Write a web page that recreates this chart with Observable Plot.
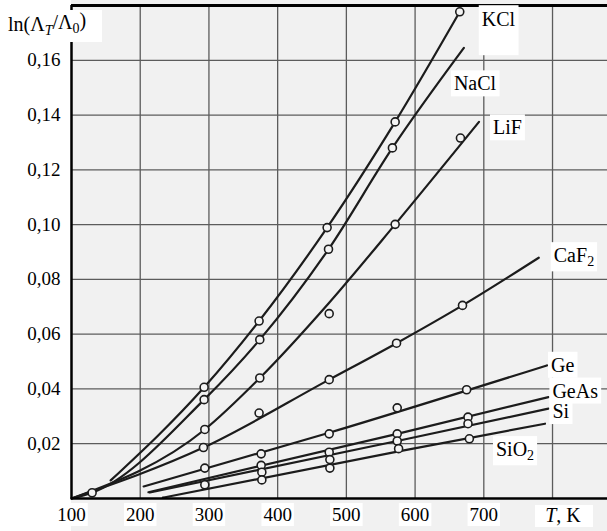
<!DOCTYPE html>
<html><head><meta charset="utf-8">
<script src="https://cdn.jsdelivr.net/npm/d3@7"></script>
<script src="https://cdn.jsdelivr.net/npm/@observablehq/plot@0.6"></script>
<style>
body{margin:0;background:#fff;}
#chart svg{display:block;background:#fff;}
</style></head><body><div id="chart"></div>
<script>
// ---- data ----
const xTicks = [100, 200, 300, 400, 500, 600, 700];
const xGrid = [200, 300, 400, 500, 600, 700, 800];
const yTicks = [0.02, 0.04, 0.06, 0.08, 0.10, 0.12, 0.14, 0.16];
const seriesNames = ["KCl", "NaCl", "LiF", "CaF2", "Ge", "GeAs", "Si", "SiO2"];

// curve nodes [T, ln(ΛT/Λ0)]
const lineKCl  = [[157, 0.0066], [293, 0.0406], [373, 0.0648], [472, 0.0989], [571, 0.1375], [665, 0.1777]];
const lineNaCl = [[100, 0.0], [130, 0.0021], [293, 0.0361], [374, 0.058], [474, 0.091], [567, 0.128], [671, 0.1645]];
const lineLiF  = [[100, 0.0], [294, 0.0252], [374, 0.044], [474, 0.0712], [571, 0.1001], [693, 0.1375]];
const lineCaF2 = [[100, 0.0], [292, 0.0186], [475, 0.0434], [573, 0.0567], [669, 0.0705], [780, 0.0879]];
const lineGe   = [[205, 0.0044], [475, 0.0240], [792, 0.0486]];
const lineGeAs = [[212, 0.0023], [574, 0.0236], [794, 0.037]];
const lineSi   = [[214, 0.0022], [574, 0.021], [794, 0.0328]];
const lineSiO2 = [[233, 0.0003], [576, 0.0172], [789, 0.0273]];

// measured points (circles)
const ptsKCl  = [[293, 0.0406], [373, 0.0648], [472, 0.0989], [571, 0.1375], [665, 0.1777]];
const ptsNaCl = [[130, 0.0021], [293, 0.0361], [374, 0.058], [474, 0.091], [567, 0.128]];
const ptsLiF  = [[294, 0.0252], [374, 0.044], [475, 0.0675], [571, 0.1001], [666, 0.1316]];
const ptsCaF2 = [[292, 0.0186], [373, 0.0312], [475, 0.0434], [573, 0.0567], [669, 0.0705]];
const ptsGe   = [[294, 0.0111], [376, 0.0163], [475, 0.0236], [574, 0.0331], [675, 0.0397]];
const ptsGeAs = [[376, 0.0121], [475, 0.0169], [574, 0.0236], [677, 0.0297]];
const ptsSi   = [[294, 0.005], [377, 0.0096], [476, 0.0142], [574, 0.021], [677, 0.0273]];
const ptsSiO2 = [[377, 0.0068], [476, 0.0111], [576, 0.0182], [679, 0.0218]];

const lines = {KCl: lineKCl, NaCl: lineNaCl, LiF: lineLiF, CaF2: lineCaF2, Ge: lineGe, GeAs: lineGeAs, Si: lineSi, SiO2: lineSiO2};
const pts = {KCl: ptsKCl, NaCl: ptsNaCl, LiF: ptsLiF, CaF2: ptsCaF2, Ge: ptsGe, GeAs: ptsGeAs, Si: ptsSi, SiO2: ptsSiO2};

// label offsets from each curve's end (style)
const labelStyle = {
  KCl: {dx: 22, dy: 8}, NaCl: {dx: -10, dy: 36}, LiF: {dx: 14, dy: 6}, CaF2: {dx: 15, dy: -2},
  Ge: {dx: 4, dy: 0}, GeAs: {dx: 4, dy: -6}, Si: {dx: 4, dy: 3}, SiO2: {dx: -49, dy: 26}
};

const lineRows = seriesNames.flatMap(s => lines[s].map(([T, v]) => ({s, T, v})));
const ptRows = seriesNames.flatMap(s => pts[s].map(([T, v]) => ({s, T, v})));

const FONT = "Liberation Serif, Times New Roman, serif";
const fmt = d => d.toFixed(2).replace(".", ",");

const plot = Plot.plot({
  width: 607, height: 531,
  marginLeft: 71, marginRight: 0, marginTop: 5, marginBottom: 33,
  x: {domain: [100, 880]},
  y: {domain: [0, 0.18]},
  style: {fontFamily: FONT, background: "transparent", color: "#111"},
  marks: [
    Plot.gridX(xGrid, {stroke: "#5c5c5c", strokeOpacity: 1, strokeWidth: 1.3}),
    Plot.gridY(yTicks, {stroke: "#5c5c5c", strokeOpacity: 1, strokeWidth: 1.3}),
    Plot.line(lineRows, {x: "T", y: "v", z: "s", curve: "monotone-x", stroke: "#1c1c1c", strokeWidth: 2.2}),
    Plot.dot(ptRows, {x: "T", y: "v", r: 4, stroke: "#1c1c1c", strokeWidth: 1.6, fill: "#f4f4f4"}),
    Plot.ruleX([100], {stroke: "#000", strokeWidth: 2.5}),
    Plot.ruleY([0], {stroke: "#000", strokeWidth: 2.5}),
    Plot.ruleY([0.18], {stroke: "#000", strokeWidth: 3}),
    Plot.axisX(xTicks, {tickSize: 0, tickPadding: 9, fontSize: 19, fill: "#000", label: null}),
    Plot.axisY(yTicks, {tickSize: 0, tickPadding: 11, fontSize: 19, tickFormat: fmt, fill: "#000", label: null}),
    ...seriesNames.map(s => {
      const end = lines[s][lines[s].length - 1];
      return Plot.text([{T: end[0], v: end[1], s}], {
        x: "T", y: "v", text: "s", textAnchor: "start", fontSize: 20, fill: "#000",
        dx: labelStyle[s].dx, dy: labelStyle[s].dy
      });
    })
  ]
});
document.getElementById("chart").append(plot);

const svg = d3.select(plot);
// light paper background for the plotting area and below it
svg.insert("rect", ":first-child").attr("x", 71).attr("y", 0).attr("width", 536).attr("height", 531).attr("fill", "#f1f1f1");

// white boxes behind labels, and subscripts
function boxBehind(node, px, py, extraBottom) {
  const b = node.getBBox();
  const r = document.createElementNS("http://www.w3.org/2000/svg", "rect");
  r.setAttribute("x", b.x - px); r.setAttribute("y", b.y - py);
  r.setAttribute("width", b.width + 2 * px); r.setAttribute("height", b.height + 2 * py + (extraBottom || 0));
  r.setAttribute("fill", "#fff");
  const t = node.getAttribute("transform"); if (t) r.setAttribute("transform", t);
  node.parentNode.insertBefore(r, node);
}
svg.selectAll("text").each(function() {
  const txt = this.textContent;
  if (txt === "CaF2" || txt === "SiO2") {
    const base = txt.slice(0, -1);
    this.textContent = "";
    d3.select(this).append("tspan").text(base);
    d3.select(this).append("tspan").attr("font-size", "70%").attr("dy", "0.3em").text("2");
  }
});
svg.selectAll("text").each(function() {
  const txt = this.textContent;
  if (txt === "KCl") boxBehind(this, 3, 3, 22);
  else if (seriesNames.includes(txt)) boxBehind(this, 3, 2);
  else if (/^[1-7]00$/.test(txt)) boxBehind(this, 2, 1);
});

// axis titles
const ty = svg.append("g").attr("font-family", FONT).attr("fill", "#000").attr("text-anchor", "start");
ty.append("rect").attr("x", 4).attr("y", 10).attr("width", 98).attr("height", 32).attr("fill", "#fff");
const yl = ty.append("text").attr("x", 8).attr("y", 31).attr("font-size", 20);
yl.append("tspan").text("ln(Λ");
yl.append("tspan").attr("font-size", "70%").attr("font-style", "italic").attr("dy", "0.3em").text("T");
yl.append("tspan").attr("dy", "-0.3em").text("/Λ");
yl.append("tspan").attr("font-size", "70%").attr("dy", "0.3em").text("0");
yl.append("tspan").attr("dy", "-0.3em").text(")");
ty.append("rect").attr("x", 535).attr("y", 505).attr("width", 58).attr("height", 22).attr("fill", "#fff");
const xl = ty.append("text").attr("x", 563).attr("y", 522).attr("font-size", 20).attr("text-anchor", "middle");
xl.append("tspan").attr("font-style", "italic").text("T");
xl.append("tspan").text(", K");
</script>
</body></html>
